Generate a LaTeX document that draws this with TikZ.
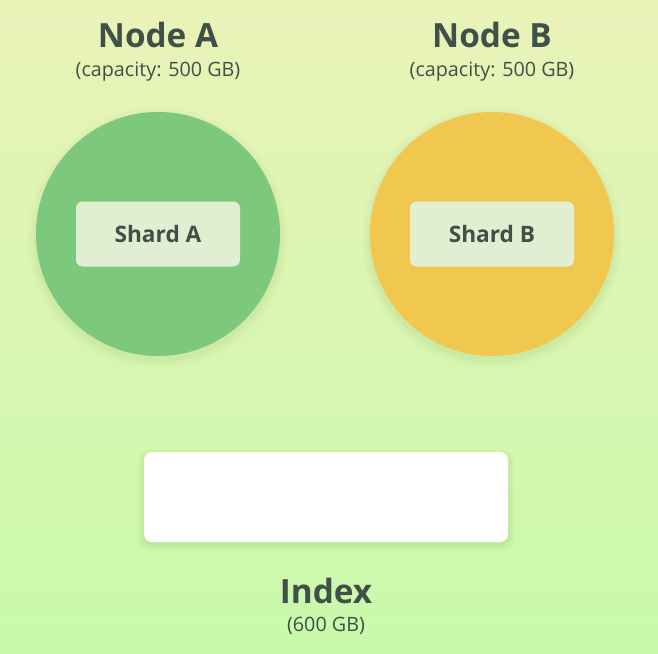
\documentclass[tikz,border=0pt]{standalone}
\usepackage{fontspec}
\setmainfont{Open Sans}
\usetikzlibrary{positioning}

\definecolor{bgtop}{HTML}{EAF2B8}
\definecolor{bgbottom}{HTML}{C8FAAA}
\definecolor{inkdark}{HTML}{3E5048}
\definecolor{nodegreen}{HTML}{7CC87C}
\definecolor{nodeyellow}{HTML}{F0C850}
\definecolor{shardfill}{HTML}{E2EED2}
\definecolor{shadowcol}{HTML}{7A9A50}

\begin{document}
\begin{tikzpicture}[x=0.75pt,y=-0.75pt,inner sep=0pt,outer sep=0pt,
        server/.style={circle,minimum size=183pt},
        shard/.style={rounded corners=5pt,fill=shardfill,minimum width=123pt,minimum height=48.75pt,
          text=inkdark,font=\fontsize{17}{20}\selectfont\bfseries},
        title/.style={text=inkdark,font=\fontsize{25}{30}\selectfont\bfseries},
        caption/.style={text=inkdark,font=\fontsize{14.8}{18}\selectfont}]

  \shade[top color=bgtop,bottom color=bgbottom] (0,0) rectangle (658,654);
  \useasboundingbox (0,0) rectangle (658,654);

  % soft shadows under the circles and the index box
  \foreach \r/\op in {130/0.03,127/0.04,124/0.05}{
    \fill[shadowcol,opacity=\op] (158,238) circle[radius=\r];
    \fill[shadowcol,opacity=\op] (492,238) circle[radius=\r];
  }
  \foreach \d/\op in {6/0.04,4/0.05,2/0.07}{
    \fill[shadowcol,opacity=\op,rounded corners=8pt] (144-\d,455-\d) rectangle (508+\d,545+\d);
  }

  \node[server,fill=nodegreen] (nodeA) at (158,234) {};
  \node[server,fill=nodeyellow] (nodeB) at (492,234) {};
  \node[shard] (shardA) at (nodeA.center) {Shard A};
  \node[shard] (shardB) at (nodeB.center) {Shard B};

  \node[caption] (capA) [above=23pt of nodeA] {(capacity: 500 GB)};
  \node[title] (titleA) [above=11pt of capA] {Node A};
  \node[caption] (capB) [above=23pt of nodeB] {(capacity: 500 GB)};
  \node[title] (titleB) [above=11pt of capB] {Node B};

  \node[rounded corners=6pt,fill=white,minimum width=273pt,minimum height=67.5pt]
        (index) at (326,497) {};
  \node[title] (indexTitle) [below=27pt of index] {Index};
  \node[caption] (indexCap) [below=10pt of indexTitle] {(600 GB)};

\end{tikzpicture}
\end{document}
